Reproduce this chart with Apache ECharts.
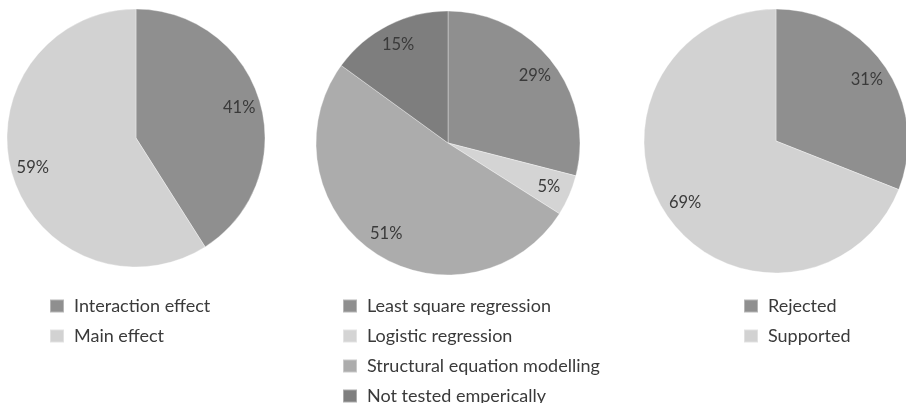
<!DOCTYPE html>
<html>
<head>
<meta charset="utf-8">
<script src="https://cdn.jsdelivr.net/npm/echarts@6/dist/echarts.min.js"></script>
<style>html,body{margin:0;padding:0;background:#fff;}#c{width:906px;height:403px;}</style>
</head>
<body>
<div id="c"></div>
<script>
// Chart 1
const effectNames = ['Interaction effect', 'Main effect'];
const effectValues = [41, 59];
const effectColors = ['#8f8f8f', '#d2d2d2'];
// Chart 2
const methodNames = ['Least square regression', 'Logistic regression', 'Structural equation modelling', 'Not tested emperically'];
const methodValues = [29, 5, 51, 15];
const methodColors = ['#8f8f8f', '#d4d4d4', '#acacac', '#7e7e7e'];
// Chart 3
const resultNames = ['Rejected', 'Supported'];
const resultValues = [31, 69];
const resultColors = ['#8f8f8f', '#d2d2d2'];

const FONT = 'Lato, "Open Sans", sans-serif';

function toData(names, values, colors) {
  return names.map((n, i) => ({ name: n, value: values[i], itemStyle: { color: colors[i] } }));
}

function piePair(names, values, colors, center, r) {
  const data = toData(names, values, colors);
  return [
    {
      type: 'pie', center: center, radius: [0, r], startAngle: 90, clockwise: true,
      data: data, label: { show: false }, labelLine: { show: false },
      itemStyle: { borderColor: 'rgba(255,255,255,0.35)', borderWidth: 1 },
      emphasis: { disabled: true }, silent: true, animation: false
    },
    {
      type: 'pie', center: center, radius: [r * 0.62, r], startAngle: 90, clockwise: true,
      data: names.map((n, i) => ({ name: n, value: values[i], itemStyle: { color: 'rgba(0,0,0,0)' } })),
      label: { show: true, position: 'inside', formatter: '{c}%', color: '#3a3a3a', fontSize: 16.5, fontFamily: FONT },
      labelLine: { show: false }, legendHoverLink: false,
      emphasis: { disabled: true }, silent: true, animation: false
    }
  ];
}

function legend(names, left) {
  return {
    data: names, orient: 'vertical', left: left, top: 297, height: 140, padding: 0,
    itemWidth: 14, itemHeight: 13, itemGap: 12, icon: 'rect',
    selectedMode: false,
    textStyle: { color: '#3a3a3a', fontSize: 18, lineHeight: 18, fontFamily: FONT, padding: [0, 0, 0, 5] }
  };
}

const chart = echarts.init(document.getElementById('c'), null, { renderer: 'canvas' });
chart.setOption({
  animation: false,
  legend: [legend(effectNames, 49), legend(methodNames, 342), legend(resultNames, 743)],
  series: [
    ...piePair(effectNames, effectValues, effectColors, [136, 138], 129),
    ...piePair(methodNames, methodValues, methodColors, [448, 143], 132),
    ...piePair(resultNames, resultValues, resultColors, [776, 141], 132)
  ]
});
</script>
</body>
</html>
